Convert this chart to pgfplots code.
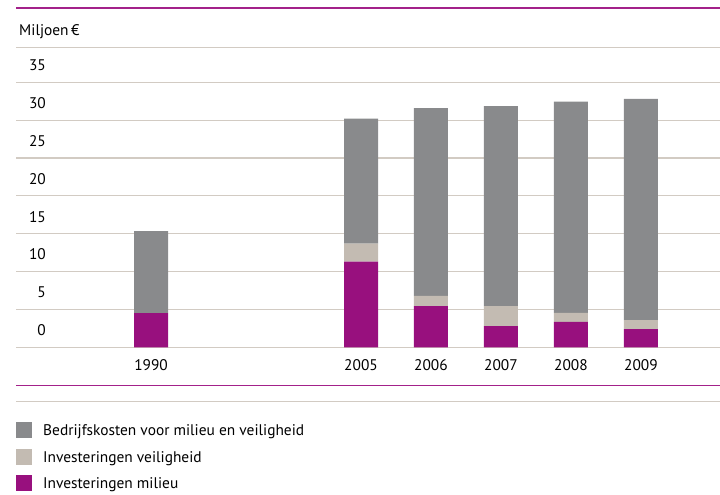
\documentclass[border=0pt]{standalone}
\usepackage{pgfplots}
\pgfplotsset{compat=1.18}
\usepackage{fontspec}
\setmainfont{PT Sans}
\definecolor{cmag}{HTML}{98107E}
\definecolor{cgray}{HTML}{898A8C}
\definecolor{cbeige}{HTML}{C3BBB2}
\definecolor{cgrid}{HTML}{D2CBC3}
\definecolor{cline}{HTML}{A3218A}

% positions: 1990 -> 0, 2005..2009 -> 3..7
\pgfplotstableread{
x milieu veiligheid bedrijf
0 4.5  0.0  10.85
3 11.3 2.4  16.5
4 5.45 1.35 24.8
5 2.8  2.65 26.4
6 3.35 1.2  27.9
7 2.4  1.2  29.2
}\datatable

\begin{document}
\fontsize{15.4bp}{18bp}\selectfont
\begin{tikzpicture}[x=1bp,y=1bp]
\path[use as bounding box] (0,0) rectangle (720,495);
% decorative rules
\draw[cline, line width=1.2bp] (16,487) -- (720,487);
\node[anchor=west, inner sep=0pt] at (19,463) {Miljoen\,€};
\draw[cgrid, line width=1.2bp] (16,447.3) -- (720,447.3);
\draw[cline, line width=1.2bp] (16,109.3) -- (720,109.3);
\draw[cgrid, line width=1.2bp] (16,93.3) -- (720,93.3);

\begin{axis}[
    at={(16bp,147.7bp)}, anchor=south west,
    width=704bp, height=265bp, scale only axis,
    ybar stacked, bar width=34bp,
    xmin=-1.93, xmax=8.13,
    ymin=0, ymax=35,
    axis line style={draw=none},
    ytick={0,5,...,35},
    xtick={0,3,4,5,6,7},
    xticklabels={1990,2005,2006,2007,2008,2009},
    ymajorgrids,
    grid style={cgrid, line width=1.2bp},
    major tick length=0pt,
    yticklabel style={inner sep=0pt, anchor=east, xshift=30bp, yshift=17bp},
    xticklabel style={inner sep=0pt, anchor=north, yshift=-12bp},
    /pgf/number format/assume math mode=true,
    every axis plot/.append style={draw=none},
    legend cell align=left,
    reverse legend,
    legend image code/.code={\fill[#1] (0bp,-8bp) rectangle (16bp,8bp);},
    legend style={at={(0,-0.283)}, anchor=north west, draw=none, fill=none,
        inner sep=0pt, row sep=10.5bp, column sep=11bp,
        nodes={inner sep=0pt, anchor=west, text depth=0pt}},
]
\addplot[fill=cmag] table[x=x, y=milieu] {\datatable};
\addlegendentry{Investeringen milieu}
\addplot[fill=cbeige] table[x=x, y=veiligheid] {\datatable};
\addlegendentry{Investeringen veiligheid}
\addplot[fill=cgray] table[x=x, y=bedrijf] {\datatable};
\addlegendentry{Bedrijfskosten voor milieu en veiligheid}
\end{axis}
\end{tikzpicture}
\end{document}
